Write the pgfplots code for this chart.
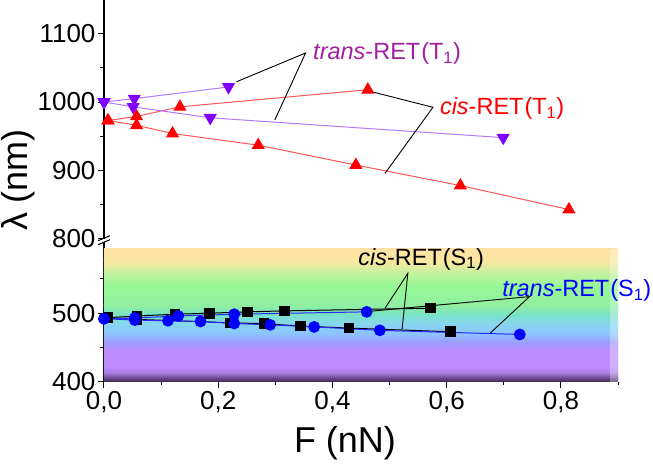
\documentclass[border=0pt]{standalone}
\usepackage{fontspec}
\setmainfont{Liberation Sans}
\usepackage{pgfplots}
\usepackage{pgfplotstable}
\pgfplotsset{compat=1.18}

\definecolor{tviolet}{RGB}{128,0,255}
\definecolor{tvioletline}{RGB}{178,120,255}
\definecolor{tviolettext}{RGB}{160,32,160}
\definecolor{cred}{RGB}{255,0,0}
\definecolor{credline}{RGB}{255,85,85}
\definecolor{tblue}{RGB}{0,0,255}
\definecolor{tblueline}{RGB}{40,40,255}

% spectrum band colours (bottom -> top)
\definecolor{s400}{RGB}{60,40,80}
\definecolor{s406}{RGB}{110,78,150}
\definecolor{s413}{RGB}{170,125,225}
\definecolor{s422}{RGB}{192,140,255}
\definecolor{s445}{RGB}{190,142,255}
\definecolor{s458}{RGB}{156,156,255}
\definecolor{s470}{RGB}{140,196,255}
\definecolor{s485}{RGB}{136,214,240}
\definecolor{s498}{RGB}{120,226,196}
\definecolor{s512}{RGB}{144,240,160}
\definecolor{s540}{RGB}{150,248,148}
\definecolor{s560}{RGB}{200,240,160}
\definecolor{s576}{RGB}{250,232,160}
\definecolor{s594}{RGB}{254,226,164}

% trans-RET, T1
\pgfplotstableread{
x y
0.000 1000
0.053 1005
0.218 1022
}\transTup
\pgfplotstableread{
x y
0.000 1000
0.051 993
0.186 977
0.699 948
}\transTdown
% cis-RET, T1
\pgfplotstableread{
x y
0.007 973
0.057 979
0.133 993
0.462 1018
}\cisTup
\pgfplotstableread{
x y
0.007 973
0.057 966
0.120 954
0.270 937
0.441 908
0.624 878
0.814 843
}\cisTdown
% trans-RET, S1
\pgfplotstableread{
x y
0.000 492
0.054 493
0.130 496
0.228 498.5
0.460 502
}\transSup
\pgfplotstableread{
x y
0.000 492
0.054 490
0.112 489
0.169 488
0.228 485
0.291 483
0.368 480
0.483 475
0.728 469
}\transSdown
% cis-RET, S1
\pgfplotstableread{
x y
0.007 493.5
0.058 496
0.124 498.5
0.185 500
0.251 502
0.316 503.4
0.572 507.4
}\cisSup
\pgfplotstableread{
x y
0.007 493.5
0.058 491
0.222 486
0.280 484.7
0.344 481.3
0.429 478.3
0.607 472.9
}\cisSdown

\pgfplotsset{
  panel/.style={
    scale only axis, width=514pt,
    xmin=0, xmax=0.9, clip=false,
    axis y line*=left,
    tick align=outside,
    major tick length=6pt, minor tick length=3.5pt,
    every tick/.style={black, line width=1pt},
    axis line style={line width=1.2pt, black},
    tick label style={font=\fontsize{26}{26}\selectfont},
    /pgf/number format/assume math mode=true,
    yticklabel style={/pgf/number format/1000 sep={}, xshift=1pt},
  },
}
\tikzset{annot/.style={font=\fontsize{23.5}{23.5}\selectfont, inner sep=0pt}}

\begin{document}
\begin{tikzpicture}
\useasboundingbox (-104pt,-81.3pt) rectangle (549pt,381.7pt);

% lower panel: S1 emission
\begin{axis}[panel, at={(0,0)}, anchor=south west,
  height=139.7pt, ymin=400, ymax=604,
  axis x line*=bottom,
  xtick={0,0.2,0.4,0.6,0.8}, minor xtick={0.1,0.3,0.5,0.7,0.9},
  ytick={400,500}, minor ytick={450,550},
  xticklabel style={/pgf/number format/.cd, use comma, fixed, fixed zerofill, precision=1},
]
  % visible-spectrum background
  \fill[bottom color=s400, top color=s406] (axis cs:0,400) rectangle (axis cs:0.9,406.3);
  \fill[bottom color=s406, top color=s413] (axis cs:0,406) rectangle (axis cs:0.9,413.3);
  \fill[bottom color=s413, top color=s422] (axis cs:0,413) rectangle (axis cs:0.9,422.3);
  \fill[bottom color=s422, top color=s445] (axis cs:0,422) rectangle (axis cs:0.9,445.3);
  \fill[bottom color=s445, top color=s458] (axis cs:0,445) rectangle (axis cs:0.9,458.3);
  \fill[bottom color=s458, top color=s470] (axis cs:0,458) rectangle (axis cs:0.9,470.3);
  \fill[bottom color=s470, top color=s485] (axis cs:0,470) rectangle (axis cs:0.9,485.3);
  \fill[bottom color=s485, top color=s498] (axis cs:0,485) rectangle (axis cs:0.9,498.3);
  \fill[bottom color=s498, top color=s512] (axis cs:0,498) rectangle (axis cs:0.9,512.3);
  \fill[bottom color=s512, top color=s540] (axis cs:0,512) rectangle (axis cs:0.9,540.3);
  \fill[bottom color=s540, top color=s560] (axis cs:0,540) rectangle (axis cs:0.9,560.3);
  \fill[bottom color=s560, top color=s576] (axis cs:0,560) rectangle (axis cs:0.9,576.3);
  \fill[bottom color=s576, top color=s594] (axis cs:0,576) rectangle (axis cs:0.9,594);
  % soft right edge of the spectrum strip
  \fill[white, fill opacity=0.3] (axis cs:0.886,400) rectangle (axis cs:0.9,594);

  \addplot[black, line width=1pt, mark=square*, mark size=4.8pt] table {\cisSup};
  \addplot[black, line width=1pt, mark=square*, mark size=4.8pt] table {\cisSdown};
  \addplot[tblueline, line width=1pt, mark=*, mark size=5.4pt, mark options={fill=tblue, draw=tblue}] table {\transSup};
  \addplot[tblueline, line width=1pt, mark=*, mark size=5.4pt, mark options={fill=tblue, draw=tblue}] table {\transSdown};

  % leader lines and labels
  \draw[black, line width=0.9pt] (axis cs:0.492,507.2) -- (axis cs:0.532,558.2) -- (axis cs:0.522,476.9);
  \node[annot, anchor=base west, black] at (axis cs:0.445,570.4) {\textit{cis}-RET\kern1pt(S\textsubscript{1})};
  \draw[black, line width=0.9pt] (axis cs:0.468,503) -- (axis cs:0.745,524.2) -- (axis cs:0.676,470.7);
  \node[annot, anchor=base west, tblue] at (axis cs:0.697,524.2) {\textit{trans}-RET\kern1pt(S\textsubscript{1})};
\end{axis}

% upper panel: T1 absorption
\begin{axis}[panel, at={(0,142.7pt)}, anchor=south west,
  height=239pt, ymin=800, ymax=1149,
  axis x line=none,
  ytick={800,900,1000,1100}, minor ytick={850,950,1050},
]
  \addplot[credline, line width=1pt, mark=triangle*, mark size=6.6pt, mark options={fill=cred, draw=cred}] table {\cisTup};
  \addplot[credline, line width=1pt, mark=triangle*, mark size=6.6pt, mark options={fill=cred, draw=cred}] table {\cisTdown};
  \addplot[tvioletline, line width=1pt, mark=triangle*, mark size=6.6pt, mark options={fill=tviolet, draw=tviolet, rotate=180}] table {\transTup};
  \addplot[tvioletline, line width=1pt, mark=triangle*, mark size=6.6pt, mark options={fill=tviolet, draw=tviolet, rotate=180}] table {\transTdown};

  \draw[black, line width=0.9pt] (axis cs:0.232,1029.6) -- (axis cs:0.353,1071.6) -- (axis cs:0.299,973.7);
  \node[annot, anchor=base west, tviolettext] at (axis cs:0.366,1062) {\textit{trans}-RET\kern1pt(T\textsubscript{1})};
  \draw[black, line width=0.9pt] (axis cs:0.469,1015) -- (axis cs:0.576,992.3) -- (axis cs:0.492,895.9);
  \node[annot, anchor=base west, cred] at (axis cs:0.588,981.8) {\textit{cis}-RET\kern1pt(T\textsubscript{1})};
\end{axis}

% axis break marks
\draw[black, line width=1pt] (-6pt,137pt) -- (6pt,142pt);
\draw[black, line width=1pt] (-6pt,141pt) -- (6pt,146pt);

% axis titles
\node[font=\fontsize{36}{36}\selectfont, rotate=90] at (-86pt,201.7pt) {λ (nm)};
\node[font=\fontsize{36}{36}\selectfont] at (241pt,-61pt) {F (nN)};
\end{tikzpicture}
\end{document}
